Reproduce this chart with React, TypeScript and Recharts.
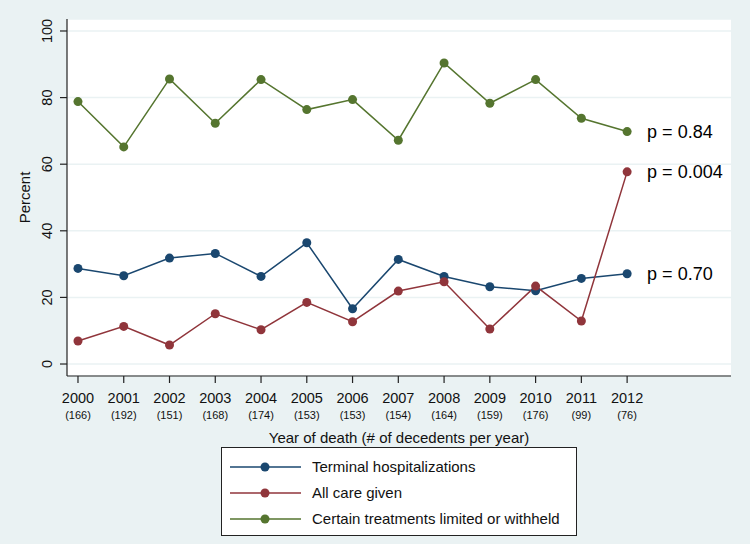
import React from "react";
import {
  LineChart,
  Line,
  XAxis,
  YAxis,
  CartesianGrid,
  Legend,
} from "recharts";

const years = [2000, 2001, 2002, 2003, 2004, 2005, 2006, 2007, 2008, 2009, 2010, 2011, 2012];
const decedents = [166, 192, 151, 168, 174, 153, 153, 154, 164, 159, 176, 99, 76];
const terminalHosp = [28.7, 26.5, 31.8, 33.2, 26.3, 36.4, 16.6, 31.4, 26.3, 23.2, 22.0, 25.7, 27.1];
const allCare = [6.9, 11.3, 5.7, 15.1, 10.3, 18.5, 12.7, 21.9, 24.7, 10.5, 23.4, 12.9, 57.7];
const limited = [78.8, 65.2, 85.6, 72.3, 85.4, 76.4, 79.4, 67.2, 90.4, 78.3, 85.4, 73.8, 69.8];
const yTicks = [0, 20, 40, 60, 80, 100];
const seriesNames = [
  "Terminal hospitalizations",
  "All care given",
  "Certain treatments limited or withheld",
];
const pTerminal = "p = 0.70";
const pAllCare = "p = 0.004";
const pLimited = "p = 0.84";

const data = years.map((year, i) => ({
  year,
  n: decedents[i],
  terminal: terminalHosp[i],
  allcare: allCare[i],
  limited: limited[i],
}));

const FONT = '"Liberation Sans", Arial, Helvetica, sans-serif';
const BG = "#eaf2f3";
const AXIS = "#222";
const BLUE = "#1a476f";
const RED = "#90353b";
const GREEN = "#55752f";

function XTick(props: any) {
  const { x, y, payload } = props;
  const i = years.indexOf(payload.value);
  return (
    <g>
      <text x={x} y={y + 18} textAnchor="middle" fontSize={14.5} fill="#111">
        {payload.value}
      </text>
      <text x={x} y={y + 34} textAnchor="middle" fontSize={11} fill="#111">
        ({decedents[i]})
      </text>
    </g>
  );
}

function YTick(props: any) {
  const { x, y, payload } = props;
  const cx = x - 11.5;
  return (
    <text
      x={cx}
      y={y}
      dy="0.35em"
      textAnchor="middle"
      fontSize={14.5}
      fill="#111"
      transform={`rotate(-90 ${cx} ${y})`}
    >
      {payload.value}
    </text>
  );
}

function endLabel(text: string, count: number) {
  return (props: any) => {
    const { x, y, index } = props;
    if (index !== count - 1) return null;
    return (
      <text x={x + 20} y={y} dy="0.35em" fontSize={18} fill="#000">
        {text}
      </text>
    );
  };
}

function LegendBox(props: any) {
  const items = [...(props.payload || [])].sort(
    (a: any, b: any) => seriesNames.indexOf(a.value) - seriesNames.indexOf(b.value)
  );
  return (
    <div
      style={{
        width: 354,
        height: 87,
        background: "#fff",
        border: "1px solid #222",
        fontFamily: FONT,
      }}
    >
      <svg width={354} height={87}>
        {items.map((entry: any, i: number) => {
          const cy = 19 + i * 26;
          return (
            <g key={entry.value}>
              <line x1={8} x2={79} y1={cy} y2={cy} stroke={entry.color} strokeWidth={1.5} />
              <circle cx={43} cy={cy} r={4.5} fill={entry.color} />
              <text x={90} y={cy} dy="0.35em" fontSize={15} fill="#111">
                {entry.value}
              </text>
            </g>
          );
        })}
      </svg>
    </div>
  );
}

export default function App() {
  return (
    <div
      style={{
        position: "absolute",
        left: 0,
        top: 0,
        width: 750,
        height: 544,
        background: BG,
        fontFamily: FONT,
      }}
    >
      <LineChart
        width={750}
        height={544}
        data={data}
        margin={{ top: 19, right: 19, left: 0, bottom: 98 }}
        style={{ fontFamily: FONT }}
      >
        <CartesianGrid
          horizontal
          vertical={false}
          stroke={BG}
          strokeWidth={1.5}
          fill="#fff"
        />
        <XAxis
          type="number"
          dataKey="year"
          domain={[1999.76, 2014.27]}
          allowDataOverflow
          ticks={years}
          interval={0}
          height={70}
          tickSize={7}
          axisLine={{ stroke: AXIS, strokeWidth: 1.2 }}
          tickLine={{ stroke: AXIS, strokeWidth: 1.2 }}
          tick={<XTick />}
          label={(p: any) => {
            const vb = p.viewBox;
            return (
              <text
                x={vb.x + vb.width / 2}
                y={vb.y + 62}
                dy="0.35em"
                textAnchor="middle"
                fontSize={15}
                fill="#111"
              >
                Year of death (# of decedents per year)
              </text>
            );
          }}
        />
        <YAxis
          type="number"
          domain={[-3.6, 103.6]}
          allowDataOverflow
          ticks={yTicks}
          interval={0}
          width={67}
          tickSize={7}
          axisLine={{ stroke: AXIS, strokeWidth: 1.2 }}
          tickLine={{ stroke: AXIS, strokeWidth: 1.2 }}
          tick={<YTick />}
          label={(p: any) => {
            const vb = p.viewBox;
            const cx = vb.x + 24.5;
            const cy = vb.y + vb.height / 2;
            return (
              <text
                x={cx}
                y={cy}
                dy="0.35em"
                textAnchor="middle"
                fontSize={15}
                fill="#111"
                transform={`rotate(-90 ${cx} ${cy})`}
              >
                Percent
              </text>
            );
          }}
        />
        <Legend
          layout="vertical"
          align="center"
          verticalAlign="middle"
          wrapperStyle={{ left: 221, top: 447, width: 356, height: 89 }}
          content={<LegendBox />}
        />
        <Line
          name={seriesNames[0]}
          dataKey="terminal"
          stroke={BLUE}
          strokeWidth={1.5}
          dot={{ r: 4.5, fill: BLUE, stroke: BLUE, strokeWidth: 0 }}
          isAnimationActive={false}
          label={endLabel(pTerminal, years.length)}
        />
        <Line
          name={seriesNames[1]}
          dataKey="allcare"
          stroke={RED}
          strokeWidth={1.5}
          dot={{ r: 4.5, fill: RED, stroke: RED, strokeWidth: 0 }}
          isAnimationActive={false}
          label={endLabel(pAllCare, years.length)}
        />
        <Line
          name={seriesNames[2]}
          dataKey="limited"
          stroke={GREEN}
          strokeWidth={1.5}
          dot={{ r: 4.5, fill: GREEN, stroke: GREEN, strokeWidth: 0 }}
          isAnimationActive={false}
          label={endLabel(pLimited, years.length)}
        />
      </LineChart>
    </div>
  );
}
